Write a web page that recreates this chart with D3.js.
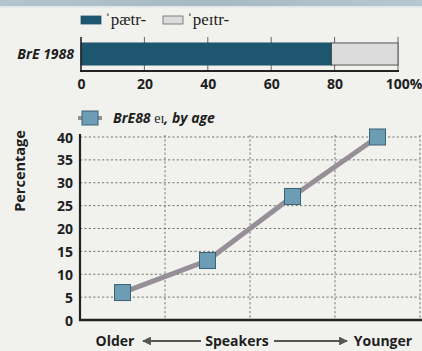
<!DOCTYPE html>
<html>
<head>
<meta charset="utf-8">
<script src="https://cdn.jsdelivr.net/npm/d3@7"></script>
<style>
  html, body { margin: 0; padding: 0; background: #f1f1ee; }
  svg { display: block; }
  .sans { font-family: "Open Sans", "Noto Sans", sans-serif; font-weight: 700; fill: #1e1e1e; }
  .serif { font-family: "Liberation Serif", "DejaVu Serif", serif; fill: #1e1e1e; }
</style>
</head>
<body>
<svg id="chart" width="422" height="351"></svg>
<script>
// Share of the two pronunciations, BrE 1988 poll
const pronunciations = ["ˈpætr-", "ˈpeɪtr-"];
const shares = [79, 21];
const pollLabel = "BrE 1988";
const shareTicks = [0, 20, 40, 60, 80, 100];

// eɪ percentage by age group
const ageGroups = ["Oldest", "Older-middle", "Younger-middle", "Youngest"];
const eiByAge = [6, 13, 27, 40];
const percentTicks = [0, 5, 10, 15, 20, 25, 30, 35, 40];

const svg = d3.select("#chart");
const W = 422, H = 351;

// header band
const defs = svg.append("defs");
const grad = defs.append("linearGradient").attr("id", "band").attr("x1", 0).attr("x2", 1);
grad.append("stop").attr("offset", "0%").attr("stop-color", "#b3c4cc");
grad.append("stop").attr("offset", "50%").attr("stop-color", "#a6bac5");
grad.append("stop").attr("offset", "100%").attr("stop-color", "#b7c7cf");
svg.append("rect").attr("x", 0).attr("y", 0).attr("width", W).attr("height", 6).attr("fill", "url(#band)");
svg.append("rect").attr("x", 0).attr("y", 6).attr("width", W).attr("height", 1.5).attr("fill", "#dfe5e8");

// ---------- stacked share bar ----------
const colors = ["#1d566e", "#dcdcdc"];
const xs = d3.scaleLinear().domain([0, 100]).range([81, 398]);
const barTop = 37, barBottom = 71;
const yb = d3.scaleBand().domain([pollLabel]).range([barTop, barBottom]).paddingInner(0).paddingOuter(0.27);

// vertical grid
svg.append("g").selectAll("line").data(shareTicks.slice(1)).join("line")
  .attr("x1", d => xs(d)).attr("x2", d => xs(d))
  .attr("y1", barTop).attr("y2", barBottom)
  .attr("stroke", "#555").attr("stroke-width", 0.9);

// segments
let acc = 0;
const segs = shares.map((v, i) => { const s = { x0: acc, x1: acc + v, i }; acc += v; return s; });
svg.append("g").selectAll("rect").data(segs).join("rect")
  .attr("x", d => xs(d.x0)).attr("width", d => xs(d.x1) - xs(d.x0))
  .attr("y", yb(pollLabel)).attr("height", yb.bandwidth())
  .attr("fill", d => colors[d.i])
  .attr("stroke", d => d.i === 0 ? "#1d566e" : "#444")
  .attr("stroke-width", 0.9);

// axis lines
svg.append("line").attr("x1", xs(0)).attr("x2", xs(0)).attr("y1", barTop).attr("y2", barBottom + 1)
  .attr("stroke", "#222").attr("stroke-width", 1.6);
svg.append("line").attr("x1", xs(0) - 1).attr("x2", xs(100) + 1).attr("y1", barBottom).attr("y2", barBottom)
  .attr("stroke", "#222").attr("stroke-width", 2.2);

// tick labels
const xAxisTop = d3.axisBottom(xs).tickValues(shareTicks).tickSize(0)
  .tickFormat(d => d === 100 ? "100%" : d);
const gx = svg.append("g").attr("transform", `translate(0,${barBottom + 5})`).call(xAxisTop);
gx.select(".domain").remove();
gx.selectAll("text").attr("class", "sans").style("font-size", "14px");
gx.selectAll("text").filter(d => d === 100).attr("dx", "0.4em");

svg.append("text").attr("class", "sans").attr("x", 74).attr("y", yb(pollLabel) + yb.bandwidth() / 2 + 5)
  .attr("text-anchor", "end").style("font-style", "italic").style("font-size", "14px").text(pollLabel);

// legend
const leg = svg.append("g");
const legX = [81, 163];
pronunciations.forEach((p, i) => {
  leg.append("rect").attr("x", legX[i]).attr("y", 16).attr("width", 20).attr("height", 8)
    .attr("fill", colors[i]).attr("stroke", i === 0 ? "#1d566e" : "#666").attr("stroke-width", 0.8);
  leg.append("text").attr("class", "serif").attr("x", legX[i] + 24).attr("y", 25)
    .style("font-size", "17px").text(p);
});

// ---------- line chart ----------
const plotL = 80, plotR = 420, plotT = 137, plotB = 320;
const xb = d3.scaleBand().domain(ageGroups).range([plotL, plotR]);
const y = d3.scaleLinear().domain([0, 40]).range([plotB, plotT]);

const grid = svg.append("g").attr("stroke", "#666").attr("stroke-width", 0.9).attr("stroke-dasharray", "2.2,2.2");
grid.selectAll("line.h").data(percentTicks.slice(1)).join("line").attr("class", "h")
  .attr("x1", plotL).attr("x2", plotR).attr("y1", d => y(d)).attr("y2", d => y(d));
grid.selectAll("line.v").data(ageGroups).join("line").attr("class", "v")
  .attr("x1", d => xb(d) + xb.bandwidth()).attr("x2", d => xb(d) + xb.bandwidth())
  .attr("y1", plotT - 2).attr("y2", plotB);

// axes
const gy = svg.append("g").attr("transform", `translate(${plotL - 4},0)`)
  .call(d3.axisLeft(y).tickValues(percentTicks).tickSize(0));
gy.select(".domain").remove();
gy.selectAll("text").attr("class", "sans").style("font-size", "14px").attr("dy", "0.36em");

svg.append("line").attr("x1", plotL).attr("x2", plotL).attr("y1", plotT - 3).attr("y2", plotB + 1)
  .attr("stroke", "#222").attr("stroke-width", 2.2);
svg.append("line").attr("x1", plotL - 1).attr("x2", W).attr("y1", plotB).attr("y2", plotB)
  .attr("stroke", "#222").attr("stroke-width", 2.4);

svg.append("text").attr("class", "sans").attr("transform", `translate(25,171) rotate(-90)`)
  .attr("text-anchor", "middle").style("font-size", "14.5px").text("Percentage");

// series
const line = d3.line().x(d => xb(d.g) + xb.bandwidth() / 2).y(d => y(d.v));
const pts = ageGroups.map((g, i) => ({ g, v: eiByAge[i] }));
svg.append("path").datum(pts).attr("d", line).attr("fill", "none")
  .attr("stroke", "#968f97").attr("stroke-width", 5);
const sq = 16;
svg.append("g").selectAll("rect").data(pts).join("rect")
  .attr("x", d => xb(d.g) + xb.bandwidth() / 2 - sq / 2)
  .attr("y", d => y(d.v) - sq / 2)
  .attr("width", sq).attr("height", sq)
  .attr("fill", "#6c9db4").attr("stroke", "#3b6275").attr("stroke-width", 1);

// series legend
svg.append("line").attr("x1", 78).attr("x2", 102).attr("y1", 118).attr("y2", 118)
  .attr("stroke", "#968f97").attr("stroke-width", 4);
svg.append("rect").attr("x", 82).attr("y", 111).attr("width", 16).attr("height", 14)
  .attr("fill", "#6c9db4").attr("stroke", "#3b6275").attr("stroke-width", 1);
const lt = svg.append("text").attr("x", 113).attr("y", 123).style("font-size", "14px");
lt.append("tspan").attr("class", "sans").style("font-style", "italic").text("BrE88 ");
lt.append("tspan").attr("class", "serif").style("font-size", "14px").text("eɪ");
lt.append("tspan").attr("class", "sans").style("font-style", "italic").text(", by age");

// x caption with arrows
defs.append("marker").attr("id", "head").attr("viewBox", "0 0 10 10").attr("refX", 9).attr("refY", 5)
  .attr("markerWidth", 5).attr("markerHeight", 4).attr("orient", "auto-start-reverse")
  .append("path").attr("d", "M0,0 L10,5 L0,10 Z").attr("fill", "#555");
const capY = 346;
svg.append("text").attr("class", "sans").attr("x", 115).attr("y", capY).attr("text-anchor", "middle")
  .style("font-size", "14px").text("Older");
svg.append("text").attr("class", "sans").attr("x", 237).attr("y", capY).attr("text-anchor", "middle")
  .style("font-size", "14px").text("Speakers");
svg.append("text").attr("class", "sans").attr("x", 383).attr("y", capY).attr("text-anchor", "middle")
  .style("font-size", "14px").text("Younger");
svg.append("line").attr("x1", 201).attr("x2", 143).attr("y1", capY - 5).attr("y2", capY - 5)
  .attr("stroke", "#555").attr("stroke-width", 2.2).attr("marker-end", "url(#head)");
svg.append("line").attr("x1", 274).attr("x2", 347).attr("y1", capY - 5).attr("y2", capY - 5)
  .attr("stroke", "#555").attr("stroke-width", 2.2).attr("marker-end", "url(#head)");
</script>
</body>
</html>
